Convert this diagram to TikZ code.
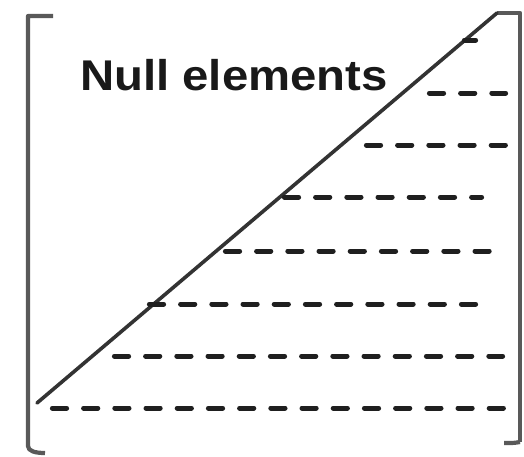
\documentclass[tikz,border=0pt]{standalone}
\usepackage{fontspec}
\setmainfont{Liberation Sans}
\begin{document}
\begin{tikzpicture}[x=1pt,y=-1pt,
  bracket/.style={draw=black!65,line width=4.2pt,line join=round},
  diag/.style={draw=black!80,line width=3.6pt,line cap=round},
  dashrow/.style={draw=black!88,line width=5pt,line cap=round,dash pattern=on 14.2pt off 17pt},
  lbl/.style={font=\fontsize{43}{43}\selectfont\bfseries,inner sep=0pt,anchor=base west,xscale=1.1,text=black!90}]
\useasboundingbox (0,0) rectangle (524,456);
% brackets
\draw[bracket] (53,16) -- (28,16) -- (28,446) .. controls (28,451) and (35,453) .. (45,453);
\draw[bracket] (520,442) .. controls (514,443) .. (504,443);
\draw[bracket] (497,13) -- (520,13) -- (520,442);
% diagonal
\draw[diag] (37,403) -- (497,13);
% dashed rows: start x, y, end x
\foreach \sx/\yy/\ex in {462/40/478, 427/93/508, 364/145/508, 282/197/484, 223/251/492, 147/304/478, 112/356/505, 50/408/506}{
  \draw[dashrow] (\sx+2.4,\yy) -- (\ex-2.4,\yy);
}
\node[lbl] (title) at (80,90) {Null elements};
\end{tikzpicture}
\end{document}
